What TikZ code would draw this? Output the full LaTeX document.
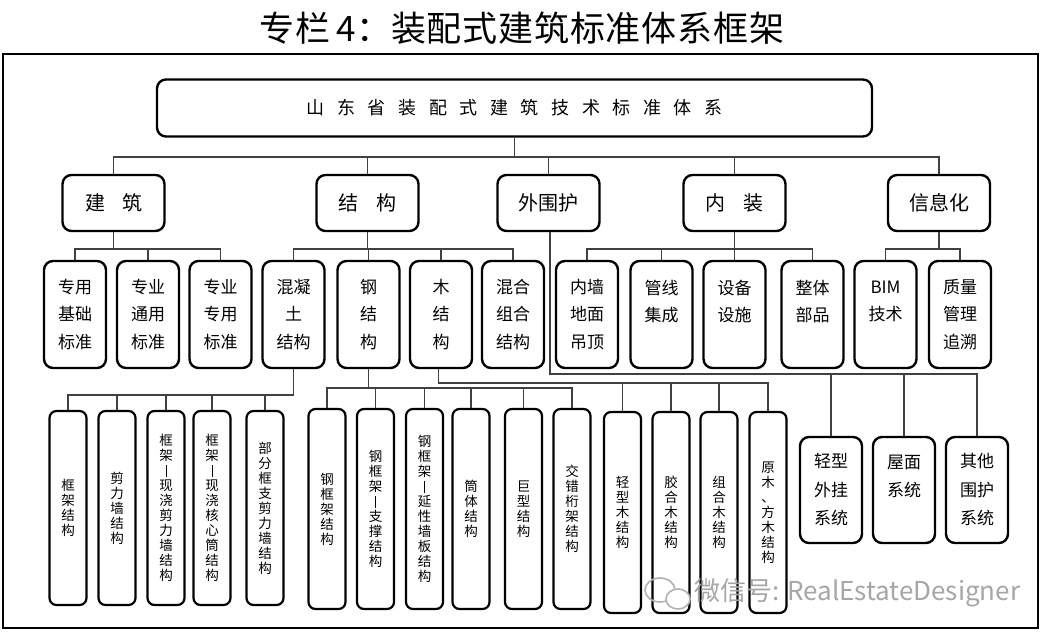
\documentclass[tikz,border=0pt]{standalone}
\usepackage{fontspec}
\setmainfont{Noto Sans CJK SC}
\usetikzlibrary{calc}
\newcommand\vdsh{\rule[-1.5pt]{0.7pt}{12pt}}
\newcommand\tgap{\hspace{12.6pt}}
\newcommand\tsp{\hspace{0.8pt}}
\begin{document}
\begin{tikzpicture}[x=1pt,y=-1pt,
  box/.style={draw=black, line width=2.4pt, rounded corners=9pt, inner sep=0pt, align=center, fill=white},
  topbox/.style={box, minimum width=715pt, minimum height=57pt, font=\fontsize{18}{22}\selectfont},
  lvtwo/.style={box, minimum width=102pt, minimum height=56pt, font=\fontsize{20}{24}\selectfont},
  lvthree/.style={box, minimum width=62pt, minimum height=107pt, font=\fontsize{17}{27.5}\selectfont},
  lvenv/.style={box, minimum width=62pt, minimum height=106pt, font=\fontsize{17}{28.5}\selectfont},
  lvfour/.style={box, line width=2.2pt, rounded corners=7pt, minimum width=37pt, font=\fontsize{13.5}{15}\selectfont},
  conn/.style={draw=black!75, line width=1.1pt},
  frame/.style={draw=black, line width=1.4pt},
  wmark/.style={text=black!35, font=\fontsize{26}{30}\selectfont, inner sep=0pt}
]
\useasboundingbox[fill=white] (0,0) rectangle (1052,639);

% title
\node[font=\fontsize{35}{40}\selectfont, inner sep=0pt] (title) at (522,28) {专\tsp 栏\,4：装\tsp 配\tsp 式\tsp 建\tsp 筑\tsp 标\tsp 准\tsp 体\tsp 系\tsp 框\tsp 架};

% outer frame
\node[frame, inner sep=0pt, minimum width=1035pt, minimum height=574pt] (fr) at (520.5,341) {};

% bus coordinates
\coordinate (bone) at (0,157);
\coordinate (btwo) at (0,249);
\coordinate (bc) at (0,395);
\coordinate (bs) at (0,388);
\coordinate (bw) at (0,383);
\coordinate (be) at (0,374);

% top
\node[topbox] (top) at (514.5,108) {山\tgap 东\tgap 省\tgap 装\tgap 配\tgap 式\tgap 建\tgap 筑\tgap 技\tgap 术\tgap 标\tgap 准\tgap 体\tgap 系};

% level 2
\node[lvtwo] (jz) at (113.5,203) {建\hspace{17pt}筑};
\node[lvtwo] (jg) at (367.5,203) {结\hspace{18pt}构};
\node[lvtwo] (wwh) at (548.5,203) {外围护};
\node[lvtwo] (nz) at (734.5,203) {内\hspace{18pt}装};
\node[lvtwo] (xxh) at (939,203) {信息化};

% level 3
\node[lvthree] (a1) at (75,314.5) {专用\\基础\\标准};
\node[lvthree] (a2) at (148,314.5) {专业\\通用\\标准};
\node[lvthree] (a3) at (220.5,314.5) {专业\\专用\\标准};
\node[lvthree] (hnt) at (293.5,314.5) {混凝\\土\\结构};
\node[lvthree] (gang) at (368.5,314.5) {钢\\结\\构};
\node[lvthree] (mu) at (441,314.5) {木\\结\\构};
\node[lvthree] (hh) at (513,314.5) {混合\\组合\\结构};
\node[lvthree] (n1) at (587,314.5) {内墙\\地面\\吊顶};
\node[lvthree] (n2) at (661.5,314.5) {管线\\集成\\~};
\node[lvthree] (n3) at (734.5,314.5) {设备\\设施\\~};
\node[lvthree] (n4) at (812.5,314.5) {整体\\部品\\~};
\node[lvthree] (x1) at (885.5,314.5) {BIM\\技术\\~};
\node[lvthree] (x2) at (960,314.5) {质量\\管理\\追溯};

% envelope children
\node[lvenv] (e1) at (831,490) {轻型\\外挂\\系统};
\node[lvenv] (e2) at (904,490) {屋面\\系统\\~};
\node[lvenv] (e3) at (977,490) {其他\\围护\\系统};

% concrete children
\node[lvfour, minimum height=194pt] (c1) at (68,508) {框\\架\\结\\构};
\node[lvfour, minimum height=194pt] (c2) at (117,508) {剪\\力\\墙\\结\\构};
\node[lvfour, minimum height=194pt] (c3) at (166,508) {框\\架\\\vdsh\\现\\浇\\剪\\力\\墙\\结\\构};
\node[lvfour, minimum height=194pt] (c4) at (212,508) {框\\架\\\vdsh\\现\\浇\\核\\心\\筒\\结\\构};
\node[lvfour, minimum height=194pt] (c5) at (265,508) {部\\分\\框\\支\\剪\\力\\墙\\结\\构};

% steel children
\node[lvfour, minimum height=200pt] (s1) at (327,509) {钢\\框\\架\\结\\构};
\node[lvfour, minimum height=200pt] (s2) at (375.5,509) {钢\\框\\架\\\vdsh\\支\\撑\\结\\构};
\node[lvfour, minimum height=200pt] (s3) at (424.5,509) {钢\\框\\架\\\vdsh\\延\\性\\墙\\板\\结\\构};
\node[lvfour, minimum height=200pt] (s4) at (471,509) {筒\\体\\结\\构};
\node[lvfour, minimum height=200pt] (s5) at (523.5,509) {巨\\型\\结\\构};
\node[lvfour, minimum height=200pt] (s6) at (572,509) {交\\错\\桁\\架\\结\\构};

% wood children
\node[lvfour, minimum height=201pt] (w1) at (622.5,512.5) {轻\\型\\木\\结\\构};
\node[lvfour, minimum height=201pt] (w2) at (671,512.5) {胶\\合\\木\\结\\构};
\node[lvfour, minimum height=201pt] (w3) at (719,512.5) {组\\合\\木\\结\\构};
\node[lvfour, minimum height=201pt] (w4) at (768,512.5) {原\\木\\、\\方\\木\\结\\构};

% connectors: top to level 2
\draw[conn] (top.south) -- (top.south |- bone);
\draw[conn] (jz.north) -- (jz.north |- bone) -- (xxh.north |- bone) -- (xxh.north);
\foreach \n in {jg,wwh,nz} \draw[conn] (\n.north) -- (\n.north |- bone);

% level 2 to level 3
\draw[conn] (jz.south) -- (jz.south |- btwo);
\draw[conn] (a1.north) -- (a1.north |- btwo) -- (a3.north |- btwo) -- (a3.north);
\draw[conn] (a2.north) -- (a2.north |- btwo);
\draw[conn] (jg.south) -- (jg.south |- btwo);
\draw[conn] (hnt.north) -- (hnt.north |- btwo) -- (hh.north |- btwo) -- (hh.north);
\foreach \n in {gang,mu} \draw[conn] (\n.north) -- (\n.north |- btwo);
\draw[conn] (nz.south) -- (nz.south |- btwo);
\draw[conn] (n1.north) -- (n1.north |- btwo) -- (n4.north |- btwo) -- (n4.north);
\foreach \n in {n2,n3} \draw[conn] (\n.north) -- (\n.north |- btwo);
\draw[conn] (xxh.south) -- (xxh.south |- btwo);
\draw[conn] (x1.north) -- (x1.north |- btwo) -- (x2.north |- btwo) -- (x2.north);

% envelope
\draw[conn] ([xshift=1.5pt]wwh.south) -- ([xshift=1.5pt]wwh.south |- be) -- (e3.north |- be) -- (e3.north);
\foreach \n in {e1,e2} \draw[conn] (\n.north) -- (\n.north |- be);

% concrete
\draw[conn] (hnt.south) -- (hnt.south |- bc) -- (c1.north |- bc) -- (c1.north);
\foreach \n in {c2,c3,c4,c5} \draw[conn] (\n.north) -- (\n.north |- bc);

% steel
\draw[conn] (gang.south) -- (gang.south |- bs);
\draw[conn] (s1.north) -- (s1.north |- bs) -- (s6.north |- bs) -- (s6.north);
\foreach \n in {s2,s3,s4,s5} \draw[conn] (\n.north) -- (\n.north |- bs);

% wood
\draw[conn] ([xshift=-2.5pt]mu.south) -- ([xshift=-2.5pt]mu.south |- bw) -- (w4.north |- bw) -- (w4.north);
\foreach \n in {w1,w2,w3} \draw[conn] (\n.north) -- (\n.north |- bw);

% watermark
\draw[black!30, line width=1.6pt] (660,590) ellipse [x radius=15pt, y radius=12pt];
\draw[black!30, line width=1.6pt, fill=white] (678,599) ellipse [x radius=12pt, y radius=10pt];
\node[wmark, anchor=west] (wm) at (694,593) {微信号: RealEstateDesigner};
\end{tikzpicture}
\end{document}
